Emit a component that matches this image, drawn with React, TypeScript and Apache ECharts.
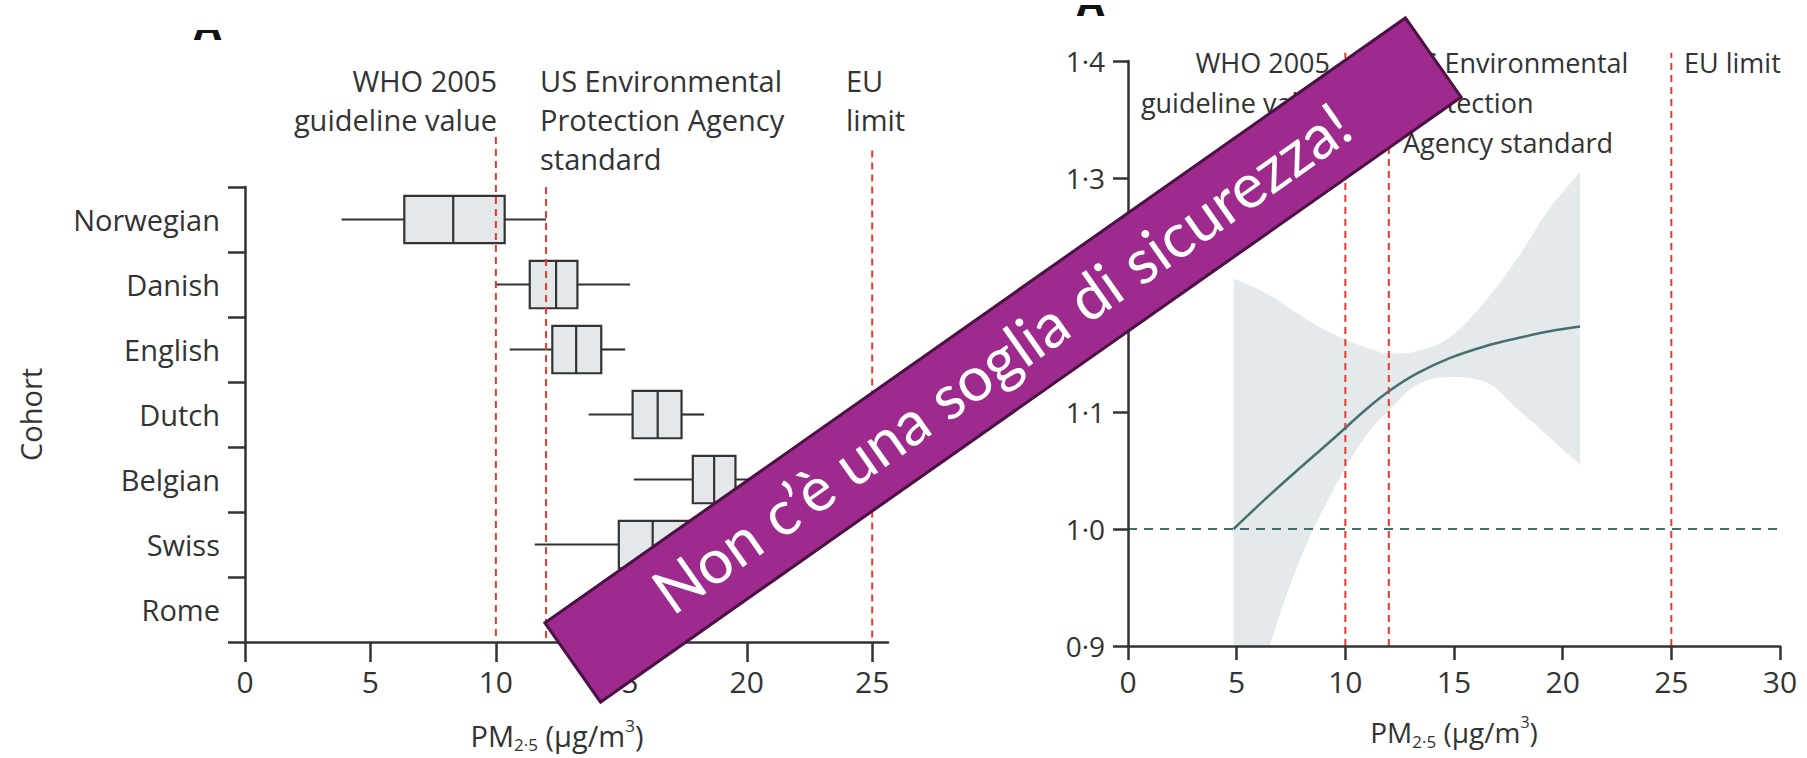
import React, { useEffect, useRef } from 'react';
import * as echarts from 'echarts';

// ---------- Data: left panel (PM2.5 distribution per cohort) ----------
const cohorts = ['Norwegian', 'Danish', 'English', 'Dutch', 'Belgian', 'Swiss', 'Rome'];
const whiskerLow = [3.85, 10.0, 10.55, 13.7, 15.5, 11.55];
const quartile1 = [6.35, 11.35, 12.25, 15.45, 17.85, 14.9];
const medians = [8.3, 12.4, 13.2, 16.45, 18.7, 16.25];
const quartile3 = [10.35, 13.25, 14.2, 17.4, 19.55, 18.3];
const whiskerHigh = [12.0, 15.35, 15.15, 18.3, 21.3, 22.4];
const xTicksLeft = [0, 5, 10, 15, 20, 25];

// ---------- Limits ----------
const limitValues = [10, 12, 25];
const limitLabelsLeft = ['WHO 2005\nguideline value', 'US Environmental\nProtection Agency\nstandard', 'EU\nlimit'];
const limitLabelsRight = ['WHO 2005\nguideline value', 'US Environmental\nProtection\nAgency standard', 'EU limit'];

// ---------- Data: right panel (exposure-response curve) ----------
const pm25 = [4.86, 6.4, 7.9, 9.5, 11.0, 12.1, 13.3, 14.8, 16.4, 17.9, 19.4, 20.8];
const hazardRatio = [1.0, 1.027, 1.052, 1.078, 1.103, 1.119, 1.133, 1.146, 1.156, 1.163, 1.169, 1.173];
const ciUpper = [1.214, 1.201, 1.183, 1.166, 1.155, 1.15, 1.152, 1.164, 1.194, 1.231, 1.274, 1.305];
const ciLower = [0.8, 0.893, 0.973, 1.035, 1.081, 1.103, 1.123, 1.13, 1.126, 1.103, 1.078, 1.055];
const referenceHR = 1.0;

const FONT = "'Open Sans', 'DejaVu Sans', sans-serif";
const TXT = '#333333';
const RED = '#e8392f';
const AX = { color: '#333333', width: 2.5 };

export default function App() {
  const ref = useRef<HTMLDivElement>(null);

  useEffect(() => {
    if (!ref.current) return;
    const chart = echarts.init(ref.current, null, { renderer: 'svg' });

    const leftTops = [-0.77, 0, -0.56];
    const rightTop = 1.407;

    const nameRich = (size: number) => ({
      a: { fontSize: size, lineHeight: 36, fontFamily: FONT, color: TXT },
      b: { fontSize: Math.round(size * 0.6), lineHeight: 16, verticalAlign: 'bottom', fontFamily: FONT, color: TXT },
      c: { fontSize: Math.round(size * 0.58), lineHeight: 18, verticalAlign: 'top', fontFamily: FONT, color: TXT },
    });
    const pmName = '{a|PM}{b|2·5}{a| (µg/m}{c|3}{a|)}';

    const series: any[] = [];

    // Box plots (custom, whiskers without caps)
    series.push({
      type: 'custom',
      xAxisIndex: 0,
      yAxisIndex: 0,
      z: 2,
      silent: true,
      data: whiskerLow.map((v, i) => [i, v, quartile1[i], medians[i], quartile3[i], whiskerHigh[i]]),
      encode: { x: [1, 2, 3, 4, 5], y: 0 },
      renderItem: (params: any, api: any) => {
        const c = api.value(0);
        const p = [1, 2, 3, 4, 5].map((k) => api.coord([api.value(k), c]));
        const band = api.size([0, 1])[1];
        const h = band * 0.73;
        const y = p[0][1];
        const st = { stroke: '#333333', lineWidth: 2.2, fill: null };
        return {
          type: 'group',
          children: [
            { type: 'line', shape: { x1: p[0][0], y1: y, x2: p[1][0], y2: y }, style: st },
            { type: 'line', shape: { x1: p[3][0], y1: y, x2: p[4][0], y2: y }, style: st },
            {
              type: 'rect',
              shape: { x: p[1][0], y: y - h / 2, width: p[3][0] - p[1][0], height: h },
              style: { fill: '#e5e8eb', stroke: '#333333', lineWidth: 2.2 },
            },
            { type: 'line', shape: { x1: p[2][0], y1: y - h / 2, x2: p[2][0], y2: y + h / 2 }, style: st },
          ],
        };
      },
    });

    // Left limit lines
    limitValues.forEach((v, i) => {
      series.push({
        type: 'line',
        xAxisIndex: 0,
        yAxisIndex: 1,
        data: [[v, leftTops[i]], [v, cohorts.length]],
        symbol: 'none',
        clip: false,
        silent: true,
        z: 3,
        lineStyle: { color: RED, width: 2, type: [7, 5] },
      });
    });

    // Right panel: CI band = upper area (grey) minus lower area (white)
    series.push({
      type: 'line',
      xAxisIndex: 1,
      yAxisIndex: 2,
      smooth: 0.4,
      symbol: 'none',
      silent: true,
      z: 1,
      data: pm25.map((x, i) => [x, ciUpper[i]]),
      lineStyle: { opacity: 0 },
      areaStyle: { color: '#e4e9eb', opacity: 1, origin: 'start' },
    });
    series.push({
      type: 'line',
      xAxisIndex: 1,
      yAxisIndex: 2,
      smooth: 0.4,
      symbol: 'none',
      silent: true,
      z: 2,
      data: pm25.map((x, i) => [x, ciLower[i]]),
      lineStyle: { opacity: 0 },
      areaStyle: { color: '#ffffff', opacity: 1, origin: 'start' },
    });

    // Reference HR = 1 dashed line
    series.push({
      type: 'line',
      xAxisIndex: 1,
      yAxisIndex: 2,
      data: [[0, referenceHR], [30.4, referenceHR]],
      symbol: 'none',
      clip: false,
      silent: true,
      z: 3,
      lineStyle: { color: '#3f6e6e', width: 2, type: [9, 7] },
    });

    // Right limit lines
    limitValues.forEach((v) => {
      series.push({
        type: 'line',
        xAxisIndex: 1,
        yAxisIndex: 2,
        data: [[v, 0.9], [v, rightTop]],
        symbol: 'none',
        clip: false,
        silent: true,
        z: 3,
        lineStyle: { color: RED, width: 2, type: [7, 5] },
      });
    });

    // Curve
    series.push({
      type: 'line',
      xAxisIndex: 1,
      yAxisIndex: 2,
      smooth: 0.4,
      symbol: 'none',
      silent: true,
      z: 5,
      data: pm25.map((x, i) => [x, hazardRatio[i]]),
      lineStyle: { color: '#476f70', width: 2.5 },
    });

    const txt = (text: string, x: number, y: number, align: string, size: number, lh: number) => ({
      type: 'text',
      x,
      y,
      z: 50,
      silent: true,
      style: {
        text,
        fill: TXT,
        fontSize: size,
        fontFamily: FONT,
        lineHeight: lh,
        align,
        textAlign: align,
        verticalAlign: 'top',
        textVerticalAlign: 'top',
      },
    });

    const graphic: any[] = [
      txt(limitLabelsLeft[0], 497, 61, 'right', 29, 39),
      txt(limitLabelsLeft[1], 540, 61, 'left', 29, 39),
      txt(limitLabelsLeft[2], 846, 61, 'left', 29, 39),
      txt(limitLabelsRight[0], 1330, 42, 'right', 27, 40),
      txt(limitLabelsRight[1], 1403, 42, 'left', 27, 40),
      txt(limitLabelsRight[2], 1684, 42, 'left', 27, 40),
      // partial panel letters cropped at the top
      {
        type: 'text', x: 207.5, y: 24, z: 60, silent: true,
        style: { text: 'A', fill: '#111', fontSize: 40, fontWeight: 'bold', fontFamily: FONT, align: 'center', textAlign: 'center', verticalAlign: 'middle', textVerticalAlign: 'middle' },
      },
      { type: 'rect', z: 61, silent: true, shape: { x: 180, y: 0, width: 60, height: 30 }, style: { fill: '#ffffff' } },
      {
        type: 'text', x: 1090.5, y: 0, z: 60, silent: true,
        style: { text: 'A', fill: '#111', fontSize: 40, fontWeight: 'bold', fontFamily: FONT, align: 'center', textAlign: 'center', verticalAlign: 'middle', textVerticalAlign: 'middle' },
      },
      { type: 'rect', z: 61, silent: true, shape: { x: 1065, y: 0, width: 50, height: 5 }, style: { fill: '#ffffff' } },
      // banner
      {
        type: 'group',
        x: 1003,
        y: 360,
        rotation: (35.1 * Math.PI) / 180,
        z: 200,
        silent: true,
        children: [
          {
            type: 'rect',
            z: 200,
            shape: { x: -526, y: -48.4, width: 1052, height: 96.8 },
            style: { fill: '#9e2a8e', stroke: '#4b1044', lineWidth: 3 },
          },
          {
            type: 'text',
            z: 201,
            x: 0,
            y: -4,
            style: {
              text: 'Non c’è una soglia di sicurezza!',
              fill: '#ffffff',
              fontSize: 62,
              fontFamily: "Lato, 'Open Sans', sans-serif",
              align: 'center',
              textAlign: 'center',
              verticalAlign: 'middle',
              textVerticalAlign: 'middle',
            },
          },
        ],
      },
    ];

    const option: any = {
      animation: false,
      backgroundColor: '#ffffff',
      grid: [
        { left: 245, top: 187, width: 643, height: 460 },
        { left: 1128, top: 61, width: 652, height: 585 },
      ],
      xAxis: [
        {
          gridIndex: 0,
          type: 'value',
          min: 0,
          max: 25.63,
          axisLine: { show: true, onZero: false, lineStyle: AX },
          axisTick: { show: true, length: 20, customValues: xTicksLeft, lineStyle: AX },
          axisLabel: { customValues: xTicksLeft, margin: 24, fontSize: 30, color: TXT, fontFamily: FONT },
          splitLine: { show: false },
          name: pmName,
          nameLocation: 'middle',
          nameGap: 75,
          nameTextStyle: { rich: nameRich(29), padding: [0, 19, 0, 0] },
        },
        {
          gridIndex: 1,
          type: 'value',
          min: 0,
          max: 30,
          interval: 5,
          z: 10,
          axisLine: { show: true, onZero: false, lineStyle: AX },
          axisTick: { show: true, length: 14, lineStyle: AX },
          axisLabel: { margin: 20, fontSize: 30, color: TXT, fontFamily: FONT },
          splitLine: { show: false },
          name: pmName,
          nameLocation: 'middle',
          nameGap: 68,
          nameTextStyle: { rich: nameRich(28) },
        },
      ],
      yAxis: [
        {
          gridIndex: 0,
          type: 'category',
          data: cohorts,
          inverse: true,
          axisLine: { show: true, onZero: false, lineStyle: AX },
          axisTick: { show: true, length: 17, lineStyle: AX },
          axisLabel: { margin: 25, fontSize: 29, color: TXT, fontFamily: FONT },
          name: 'Cohort',
          nameLocation: 'middle',
          nameGap: 200,
          nameTextStyle: { fontSize: 29, color: TXT, fontFamily: FONT },
        },
        {
          gridIndex: 0,
          type: 'value',
          min: 0,
          max: cohorts.length,
          inverse: true,
          show: false,
        },
        {
          gridIndex: 1,
          type: 'value',
          min: 0.9,
          max: 1.4,
          interval: 0.1,
          z: 10,
          axisLine: { show: true, onZero: false, lineStyle: AX },
          axisTick: { show: true, length: 15, lineStyle: AX },
          axisLabel: {
            margin: 23,
            fontSize: 28,
            color: TXT,
            fontFamily: FONT,
            formatter: (v: number) => v.toFixed(1).replace('.', '·'),
          },
          splitLine: { show: false },
        },
      ],
      series,
      graphic,
    };

    chart.setOption(option);
    return () => chart.dispose();
  }, []);

  return (
    <div
      ref={ref}
      style={{ position: 'fixed', left: 0, top: 0, width: 1807, height: 758, background: '#ffffff' }}
    />
  );
}
